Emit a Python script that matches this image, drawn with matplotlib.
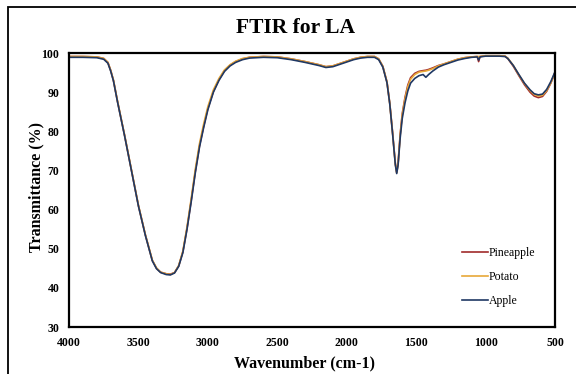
import matplotlib
matplotlib.use("Agg")
import matplotlib.pyplot as plt
from matplotlib.patches import Rectangle

plt.rcParams['font.family'] = ['Liberation Serif', 'DejaVu Serif']

wavenumber = [4000, 3900, 3800, 3750, 3720, 3700, 3680, 3650, 3600, 3550,
              3500, 3450, 3400, 3370, 3340, 3300, 3270, 3240, 3210, 3180,
              3150, 3120, 3090, 3060, 3030, 3000, 2960, 2920, 2880, 2840,
              2800, 2750, 2700, 2600, 2500, 2400, 2300, 2200, 2150, 2100,
              2050, 2000, 1950, 1900, 1850, 1800, 1770, 1740, 1710, 1690,
              1670, 1650, 1640, 1630, 1615, 1600, 1580, 1560, 1540, 1510,
              1480, 1450, 1430, 1410, 1380, 1340, 1300, 1250, 1200, 1150,
              1100, 1060, 1050, 1040, 1000, 950, 900, 860, 840, 800,
              760, 720, 680, 650, 620, 590, 560, 530, 500]

pineapple = [99.1, 99.1, 99.0, 98.6, 97.6, 95.6, 93.0, 87.5, 79.0, 70.0,
             61.0, 53.5, 47.0, 45.0, 44.0, 43.6, 43.5, 43.9, 45.6, 49.2,
             55.2, 62.3, 69.8, 76.3, 81.3, 85.8, 90.2, 93.2, 95.5, 96.9,
             97.8, 98.5, 98.9, 99.1, 99.0, 98.5, 97.8, 97.0, 96.5, 96.7,
             97.3, 97.9, 98.5, 98.9, 99.1, 99.1, 98.5, 96.6, 92.6, 87.2,
             79.8, 71.8, 69.5, 71.8, 79.2, 84.5, 88.7, 91.8, 93.7, 94.8,
             95.3, 95.5, 95.6, 95.8, 96.2, 96.8, 97.2, 97.8, 98.4, 98.8,
             99.0, 99.1, 97.8, 99.1, 99.3, 99.3, 99.3, 99.2, 98.6, 96.6,
             94.2, 91.9, 90.0, 89.0, 88.6, 88.9, 90.2, 92.3, 95.0]

potato = [99.1, 99.1, 99.0, 98.6, 97.6, 95.6, 93.1, 87.6, 79.1, 70.1,
          61.1, 53.6, 47.1, 45.1, 44.0, 43.6, 43.4, 43.9, 45.7, 49.4,
          55.6, 62.8, 70.4, 76.9, 81.9, 86.3, 90.6, 93.5, 95.7, 97.0,
          97.9, 98.6, 98.9, 99.1, 99.0, 98.5, 97.8, 97.0, 96.5, 96.7,
          97.3, 97.9, 98.5, 98.9, 99.1, 99.1, 98.5, 96.6, 92.6, 87.1,
          79.7, 71.7, 69.4, 71.7, 79.0, 84.2, 88.3, 91.4, 93.3, 94.5,
          95.1, 95.3, 95.4, 95.6, 96.0, 96.7, 97.2, 97.8, 98.4, 98.8,
          99.0, 99.1, 99.1, 99.1, 99.3, 99.3, 99.3, 99.2, 98.7, 96.8,
          94.4, 92.2, 90.4, 89.4, 89.0, 89.2, 90.4, 92.4, 95.0]

apple = [98.9, 98.9, 98.8, 98.4, 97.4, 95.4, 92.9, 87.4, 78.9, 69.9,
         60.9, 53.4, 46.9, 44.9, 43.9, 43.4, 43.3, 43.8, 45.5, 49.0,
         55.0, 62.0, 69.5, 76.0, 81.0, 85.5, 90.0, 93.0, 95.3, 96.7,
         97.6, 98.3, 98.7, 98.9, 98.8, 98.3, 97.6, 96.8, 96.3, 96.5,
         97.1, 97.7, 98.3, 98.7, 98.9, 98.9, 98.3, 96.4, 92.4, 87.0,
         79.5, 71.5, 69.2, 71.4, 78.3, 83.3, 87.3, 90.3, 92.3, 93.5,
         94.2, 94.5, 93.8, 94.5, 95.4, 96.4, 97.0, 97.6, 98.2, 98.6,
         98.9, 99.0, 98.2, 99.0, 99.2, 99.2, 99.2, 99.1, 98.6, 96.8,
         94.5, 92.3, 90.6, 89.6, 89.3, 89.5, 90.7, 92.7, 95.2]

series_names = ["Pineapple", "Potato", "Apple"]
series_colors = ["#A12B2B", "#E8A838", "#1F3864"]
x_ticks = [4000, 3500, 3000, 2500, 2000, 1500, 1000, 500]
y_ticks = [30, 40, 50, 60, 70, 80, 90, 100]

fig = plt.figure(figsize=(5.76, 3.74), dpi=100)
fig.patch.set_facecolor("white")

# outer chart border (clipped at right/bottom as in reference)
fig.patches.append(Rectangle((7.5 / 576, -0.05), 1.2, 1 - 7.5 / 374 + 0.05,
                             transform=fig.transFigure, fill=False,
                             edgecolor="black", linewidth=1.3))

ax = fig.add_axes([69 / 576, 1 - 327 / 374, 486 / 576, 274 / 374])
for name, vals, col in zip(series_names, [pineapple, potato, apple], series_colors):
    ax.plot(wavenumber, vals, color=col, linewidth=1.2, label=name,
            solid_joinstyle="round")

ax.set_xlim(4000, 500)
ax.set_ylim(30, 100)
ax.set_xticks(x_ticks)
ax.set_yticks(y_ticks)
ax.tick_params(length=0, labelsize=8.5, pad=7)
for lab in ax.get_xticklabels() + ax.get_yticklabels():
    lab.set_fontweight("bold")
for sp in ax.spines.values():
    sp.set_linewidth(1.6)
    sp.set_color("black")

fig.text(296 / 576, 1 - 28 / 374, "FTIR for LA", ha="center", va="center",
         fontsize=15.5, fontweight="bold")
fig.text(305 / 576, 1 - 363 / 374, "Wavenumber (cm-1)", ha="center", va="center",
         fontsize=11.5, fontweight="bold")
fig.text(36 / 576, 1 - 187 / 374, "Transmittance (%)", ha="center", va="center",
         fontsize=11.5, fontweight="bold", rotation=90)

leg = ax.legend(loc="center left", bbox_to_anchor=(0.808, 0.183), frameon=False,
                fontsize=8.5, handlelength=2.2, handletextpad=0.1,
                labelspacing=1.0, borderpad=0, borderaxespad=0)

fig.savefig("out.png", dpi=100)
